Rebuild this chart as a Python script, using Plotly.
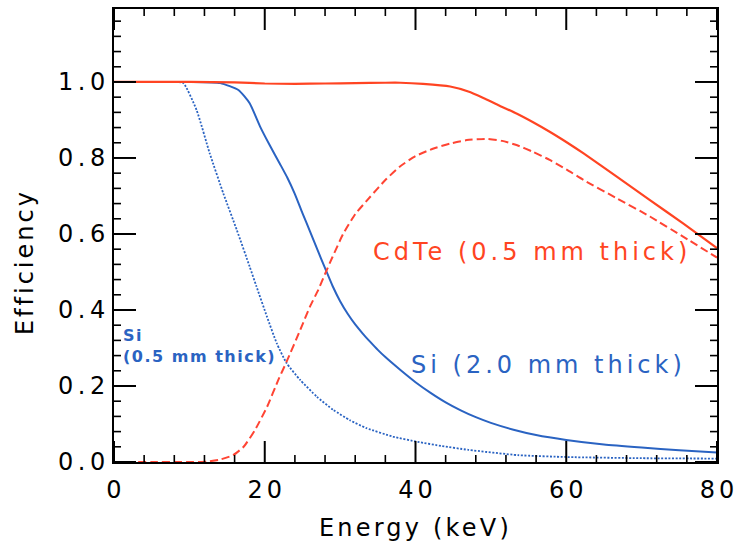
import plotly.graph_objects as go

# ---------------- data ----------------
cdte_e = [0, 10, 16, 20, 24, 28, 32, 36, 38, 41, 44.6, 47, 49, 51, 53.4, 55.6, 57.8, 60, 62.3, 66.7, 71.1, 75.5, 80]
cdte_eff = [1.0, 1.0, 0.999, 0.996, 0.995, 0.996, 0.997, 0.998, 0.998, 0.995, 0.988, 0.975, 0.958, 0.939, 0.917,
            0.894, 0.869, 0.842, 0.812, 0.751, 0.689, 0.628, 0.563]

cdte_ph_e = [0, 5, 10, 12.3, 14, 15.8, 17.2, 18.7, 20.3, 21.8, 22.9, 24.7, 26.0, 27.1, 28.0, 29, 30.4, 32, 34, 36,
             37.9, 40, 42.4, 44.6, 46.8, 49.4, 51.5, 53.4, 55.6, 57.8, 60, 62.3, 66.7, 71.1, 75.5, 80]
cdte_ph_eff = [0, 0, 0, 0.001, 0.006, 0.018, 0.04, 0.084, 0.145, 0.216, 0.264, 0.347, 0.409, 0.453, 0.495, 0.54,
               0.60, 0.652, 0.698, 0.742, 0.777, 0.805, 0.825, 0.838, 0.847, 0.85, 0.845, 0.834, 0.816, 0.795,
               0.77, 0.742, 0.694, 0.646, 0.593, 0.538]

si2_e = [0, 10, 14.1, 16.5, 18.0, 19.4, 20.7, 22.0, 23.0, 24.0, 25.0, 26.0, 27.0, 28.0, 29.0, 30.0, 31.0, 32.0,
         33.0, 34.0, 35.0, 36.0, 38.0, 40.0, 42.0, 44.0, 46.0, 48.0, 50.0, 53.0, 56.0, 60.0, 65.0, 70.0, 75.0, 80.0]
si2_eff = [1.0, 1.0, 0.997, 0.979, 0.944, 0.882, 0.832, 0.785, 0.748, 0.705, 0.655, 0.607, 0.558, 0.51, 0.463,
           0.423, 0.39, 0.362, 0.338, 0.316, 0.295, 0.276, 0.242, 0.21, 0.182, 0.157, 0.136, 0.118, 0.103, 0.085,
           0.071, 0.058, 0.046, 0.038, 0.031, 0.025]

si05_e = [0, 8, 9.2, 10.96, 12.7, 14.5, 16.3, 18.0, 18.9, 20.3, 21.6, 22.9, 24.7, 26.9, 29.1, 31.3, 33.5, 37.0,
          40.3, 43.5, 47, 53.6, 60.2, 70, 80]
si05_eff = [1.0, 1.0, 0.997, 0.926, 0.812, 0.707, 0.61, 0.514, 0.462, 0.382, 0.312, 0.26, 0.216, 0.172, 0.137,
            0.11, 0.089, 0.067, 0.053, 0.042, 0.032, 0.018, 0.013, 0.01, 0.009]

x_tick_vals = [0, 20, 40, 60, 80]
x_tick_labels = ["0", "20", "40", "60", "80"]
y_tick_vals = [0.0, 0.2, 0.4, 0.6, 0.8, 1.0]
y_tick_labels = ["0.0", "0.2", "0.4", "0.6", "0.8", "1.0"]
x_minor_vals = [v for v in range(0, 81, 4) if v % 20 != 0]
y_minor_vals = [round(0.04 * i, 2) for i in range(0, 30) if i % 5 != 0]

x_title = "Energy (keV)"
y_title = "Efficiency"
label_cdte = "CdTe (0.5 mm thick)"
label_si2 = "Si (2.0 mm thick)"
label_si05 = "Si<br>(0.5 mm thick)"

X_RANGE = [0, 80]
Y_RANGE = [0, 1.192]

RED = "#ff4422"
RED_D = "#ff4433"
BLUE = "#2a63c2"
FONT = "DejaVu Sans"

W, H = 737, 550
ML, MR, MT, MB = 114, 20, 9, 88
PW, PH = W - ML - MR, H - MT - MB
MAJOR_LEN, MINOR_LEN = 21, 7


def sp(text, ls):
    return '<span style="letter-spacing:%gpx">%s</span>' % (ls, text)


def sp_tick(text, ls):
    # letter spacing between characters only (not after the last one)
    if len(text) < 2:
        return text
    return sp(text[:-1], ls) + text[-1]


fig = go.Figure()
fig.add_trace(go.Scatter(x=si05_e, y=si05_eff, mode="lines",
                         line=dict(color=BLUE, width=1.8, dash="2px,1.6px", shape="spline", smoothing=0.5)))
fig.add_trace(go.Scatter(x=si2_e, y=si2_eff, mode="lines",
                         line=dict(color=BLUE, width=2, shape="spline", smoothing=0.5)))
fig.add_trace(go.Scatter(x=cdte_ph_e, y=cdte_ph_eff, mode="lines",
                         line=dict(color=RED_D, width=2, dash="8px,4px", shape="spline", smoothing=0.5)))
fig.add_trace(go.Scatter(x=cdte_e, y=cdte_eff, mode="lines",
                         line=dict(color=RED, width=2.2, shape="spline", smoothing=0.5)))

fig.add_annotation(x=55.5, y=0.553, xref="x", yref="y", text=sp(label_cdte, 4.0),
                   showarrow=False, font=dict(family=FONT, size=24, color=RED))
fig.add_annotation(x=57.6, y=0.256, xref="x", yref="y", text=sp(label_si2, 4.0),
                   showarrow=False, font=dict(family=FONT, size=24, color=BLUE))
fig.add_annotation(x=0.9, y=0.305, xref="x", yref="y", xanchor="left", align="left",
                   text=sp("<b>" + label_si05 + "</b>", 1.5),
                   showarrow=False, font=dict(family=FONT, size=16, color=BLUE))
# y-axis title placed like the reference (slightly below the axis centre)
fig.add_annotation(x=0, y=0.526, xref="paper", yref="y", xshift=-89, xanchor="center", yanchor="middle",
                   textangle=-90, text=sp(y_title, 3), showarrow=False,
                   font=dict(family=FONT, size=24, color="black"))

# inward tick marks on all four sides (axis decorations tied to the data scales)
tick_line = dict(color="black", width=2)
minor_line = dict(color="black", width=1.6)
for vals, ln, lstyle in ((x_tick_vals, MAJOR_LEN, tick_line), (x_minor_vals, MINOR_LEN, minor_line)):
    f = ln / PH
    for v in vals:
        fig.add_shape(type="line", xref="x", yref="y domain", x0=v, x1=v, y0=0, y1=f, line=lstyle)
        fig.add_shape(type="line", xref="x", yref="y domain", x0=v, x1=v, y0=1, y1=1 - f, line=lstyle)
for vals, ln, lstyle in ((y_tick_vals, MAJOR_LEN + 1, tick_line), (y_minor_vals, MINOR_LEN, minor_line)):
    f = ln / PW
    for v in vals:
        fig.add_shape(type="line", xref="x domain", yref="y", x0=0, x1=f, y0=v, y1=v, line=lstyle)
        fig.add_shape(type="line", xref="x domain", yref="y", x0=1, x1=1 - f, y0=v, y1=v, line=lstyle)

tickfont = dict(family=FONT, size=24, color="black")

fig.update_layout(
    template="none",
    width=W, height=H, margin=dict(l=ML, r=MR, t=MT, b=MB, autoexpand=False),
    plot_bgcolor="white", paper_bgcolor="white", showlegend=False,
    xaxis=dict(range=X_RANGE, tickmode="array", tickvals=x_tick_vals,
               ticktext=[sp_tick(t, 4) for t in x_tick_labels], tickfont=tickfont,
               ticks="", ticklabelstandoff=5, automargin=False,
               showline=True, mirror=True, linecolor="black", linewidth=2,
               showgrid=False, zeroline=False,
               title=dict(text=sp(x_title, 3.2), font=dict(family=FONT, size=24, color="black"), standoff=16)),
    yaxis=dict(range=Y_RANGE, tickmode="array", tickvals=y_tick_vals,
               ticktext=[sp_tick(t, 4.5) for t in y_tick_labels], tickfont=tickfont,
               ticks="", ticklabelstandoff=2, automargin=False,
               showline=True, mirror=True, linecolor="black", linewidth=2,
               showgrid=False, zeroline=False),
)

fig.write_html("out.html")
